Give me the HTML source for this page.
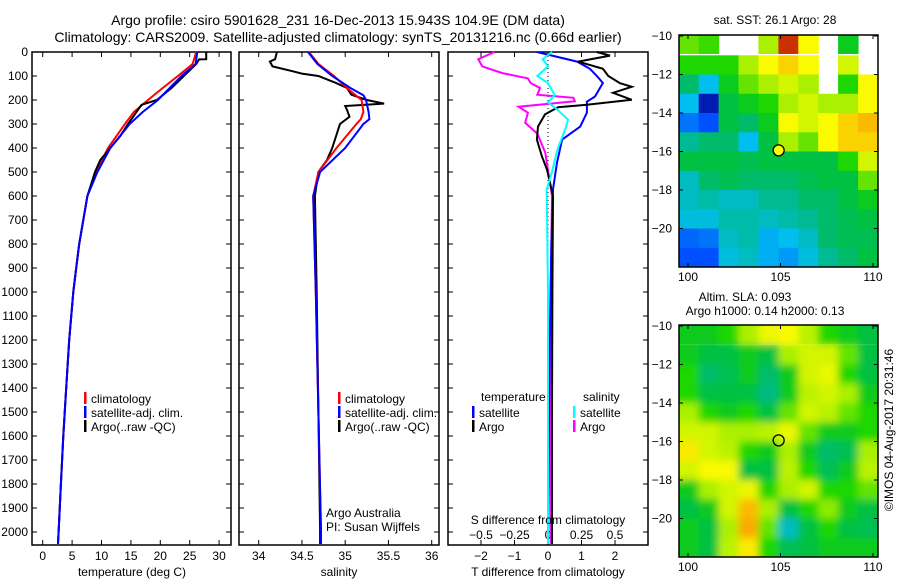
<!DOCTYPE html>
<html><head><meta charset="utf-8"><style>
body{margin:0;background:#fff;}
svg text{font-family:"Liberation Sans",sans-serif;font-size:12px;fill:#000;}
svg text.ttl{font-size:14px;}
</style></head><body>
<svg id="c" width="900" height="580" xmlns="http://www.w3.org/2000/svg">
<defs>
<filter id="blur" x="-10%" y="-10%" width="120%" height="120%"><feGaussianBlur stdDeviation="4"/></filter>
<clipPath id="clip-sst"><rect x="679" y="35" width="199" height="232"/></clipPath>
<clipPath id="clip-sla"><rect x="679" y="325" width="199" height="232"/></clipPath>
</defs>
<text class="ttl" x="338" y="25" text-anchor="middle">Argo profile: csiro 5901628_231 16-Dec-2013 15.943S 104.9E (DM data)</text>
<text class="ttl" x="338" y="42" text-anchor="middle">Climatology: CARS2009. Satellite-adjusted climatology: synTS_20131216.nc (0.66d earlier)</text>
</svg>
<script>
// ---- data ----
const tDepth=[0,30,31,50,100,150,200,220,300,350,400,450,500,600,700,800,900,1000,1200,1400,1600,1800,2000,2050];
const tArgo=[27.8,27.8,26.6,26.1,24.0,21.9,19.4,16.8,14.5,13.2,11.5,9.8,8.9,7.6,6.9,6.2,5.7,5.2,4.5,4.0,3.5,3.1,2.7,2.6];
const cDepth=[0,50,100,150,200,250,300,400,500,600,700,800,900,1000,1200,1400,1600,1800,2000,2050];
const tClim=[26.1,25.5,23.0,20.4,17.9,15.5,14.0,11.1,9.1,7.6,6.9,6.2,5.7,5.2,4.5,4.0,3.5,3.1,2.7,2.6];
const tSat=[26.3,26.0,23.6,21.6,19.6,17.0,14.8,11.5,9.3,7.6,6.9,6.2,5.7,5.2,4.5,4.0,3.5,3.1,2.7,2.6];
const sDepth=[0,30,40,60,80,90,100,130,150,178,200,215,225,240,270,300,400,450,500,600,1000,1500,2000,2050];
const sArgo=[34.21,34.19,34.13,34.16,34.39,34.50,34.69,34.90,35.02,35.07,35.25,35.45,35.00,35.02,35.05,34.94,34.85,34.79,34.69,34.65,34.67,34.69,34.71,34.71];
const scDepth=[0,50,100,150,180,200,250,280,300,400,500,600,1000,2000,2050];
const sClim=[34.58,34.69,34.87,35.02,35.12,35.19,35.21,35.18,35.13,34.90,34.69,34.63,34.66,34.72,34.72];
const sSat=[34.57,34.68,34.85,35.06,35.21,35.24,35.27,35.28,35.21,35.00,34.71,34.63,34.66,34.72,34.72];
const dDepth=[0,15,40,70,100,130,145,170,199,220,230,260,311,365,436,490,600,800,1000,1500,2050];
const dTArgo=[1.46,1.85,0.9,1.64,1.8,2.15,2.5,1.94,2.5,1.16,0.3,-0.09,-0.3,-0.33,-0.18,-0.03,0.15,0.14,0.13,0.12,0.12];
const dsDepth=[0,40,70,100,129,186,207,253,311,365,461,572,800,1200,2050];
const dTSat=[-0.33,0.87,1.25,1.46,1.64,1.4,1.16,1.16,0.96,0.42,0.27,0.15,0.1,0.05,0.0];
const mDepth=[0,30,60,88,110,129,150,178,191,205,228,253,295,340,420,600,1000,2050];
const dSArgo=[-0.4,-0.52,-0.49,-0.34,-0.15,-0.13,-0.06,-0.08,0.19,0.2,-0.22,-0.15,-0.17,-0.08,-0.02,0.03,0.02,0.02];
const cyDepth=[0,30,60,100,129,180,210,240,282,320,407,500,572,1000,2050];
const dSSat=[0.03,-0.04,0.0,-0.08,0.0,0.05,0.0,0.07,0.15,0.13,0.07,0.03,-0.01,0.0,0.0];
const depthTicks=[0,100,200,300,400,500,600,700,800,900,1000,1100,1200,1300,1400,1500,1600,1700,1800,1900,2000];
const tTicks=[0,5,10,15,20,25,30];
const sTicks=[34,34.5,35,35.5,36];
const dTTicks=[-2,-1,0,1,2];
const dSTicks=[-0.5,-0.25,0,0.25,0.5];
const lonTicks=[100,105,110];
const latTicks=[-10,-12,-14,-16,-18,-20];
// SST map (rows lat -10..-22 by 1deg, cols lon 99.5..110.3), null = no data
const sstGrid=[
[0.65,0.62,null,null,0.7,0.97,0.8,null,0.55,null],
[0.6,0.6,0.6,0.7,0.8,0.85,0.8,null,0.75,null],
[0.45,0.3,0.55,0.65,0.7,0.75,0.7,null,0.6,0.8],
[0.3,0.05,0.5,0.55,0.6,0.7,0.75,0.7,0.7,0.8],
[0.2,0.15,0.5,0.45,0.55,0.8,0.75,0.8,0.85,0.88],
[0.4,0.45,0.45,0.3,0.5,0.7,0.65,0.8,0.85,0.85],
[0.5,0.5,0.5,0.48,0.5,0.5,0.5,0.5,0.6,0.75],
[0.35,0.45,0.48,0.45,0.45,0.45,0.48,0.5,0.5,0.65],
[0.35,0.38,0.35,0.35,0.4,0.4,0.45,0.45,0.5,0.55],
[0.32,0.32,0.38,0.38,0.35,0.38,0.4,0.45,0.48,0.5],
[0.18,0.2,0.35,0.38,0.28,0.3,0.35,0.45,0.48,0.48],
[0.15,0.15,0.32,0.35,0.28,0.25,0.32,0.4,0.45,0.5]];
const slaGrid=[
[0.55,0.55,0.6,0.7,0.78,0.8,0.72,0.6,0.55,0.5],
[0.55,0.5,0.5,0.55,0.5,0.7,0.75,0.75,0.65,0.5],
[0.6,0.45,0.48,0.55,0.45,0.55,0.75,0.78,0.6,0.5],
[0.6,0.5,0.5,0.5,0.42,0.55,0.72,0.75,0.7,0.55],
[0.7,0.6,0.55,0.6,0.5,0.65,0.75,0.72,0.65,0.6],
[0.75,0.75,0.7,0.7,0.72,0.78,0.65,0.55,0.55,0.6],
[0.82,0.75,0.72,0.6,0.55,0.7,0.55,0.45,0.48,0.7],
[0.75,0.8,0.8,0.5,0.5,0.72,0.6,0.48,0.55,0.72],
[0.55,0.7,0.75,0.78,0.6,0.7,0.75,0.6,0.6,0.65],
[0.5,0.55,0.75,0.88,0.7,0.5,0.6,0.68,0.55,0.5],
[0.55,0.5,0.7,0.9,0.65,0.35,0.5,0.6,0.5,0.48],
[0.55,0.5,0.72,0.82,0.6,0.48,0.5,0.55,0.55,0.55]];
const argoLon=104.9, argoLat=-15.94;

// ---- drawing ----
const svg=document.getElementById('c');
const NS='http://www.w3.org/2000/svg';
function mk(tag,attrs,parent){const e=document.createElementNS(NS,tag);for(const k in attrs)e.setAttribute(k,attrs[k]);(parent||svg).appendChild(e);return e;}
function txt(x,y,s,anchor,parent){const e=mk('text',{x:x,y:y,'text-anchor':anchor||'start'},parent);e.textContent=s;return e;}
const yD=d=>52+d*0.24;
const yTop=52,yBot=545;

function panel(name,x0,x1){
  const g=mk('g',{});
  
  
  const r=mk('rect',{x:x0,y:yTop,width:x1-x0,height:yBot-yTop,fill:'none',stroke:'#000','stroke-width':1.5},g);
  
  
  depthTicks.forEach(d=>{mk('line',{x1:x0,x2:x0+5,y1:yD(d),y2:yD(d),stroke:'#000'},g);mk('line',{x1:x1,x2:x1-5,y1:yD(d),y2:yD(d),stroke:'#000'},g);});
  return g;
}
function xticks(g,ticks,fx,labelY,top,bottom){
  ticks.forEach(t=>{const x=fx(t);
    if(bottom)mk('line',{x1:x,x2:x,y1:yBot,y2:yBot-5,stroke:'#000'},g);
    if(top)mk('line',{x1:x,x2:x,y1:yTop,y2:yTop+5,stroke:'#000'},g);
    if(labelY){const l=txt(x,labelY,String(t).replace('-','\u2212'),'middle',g);
      
      }
  });
}
function line(g,xs,ds,fx,color,name,w){
  const pts=xs.map((v,i)=>fx(v).toFixed(1)+','+yD(ds[i]).toFixed(1)).join(' ');
  const p=mk('polyline',{points:pts,fill:'none',stroke:color,'stroke-width':w||2,'stroke-linejoin':'miter'},g);
  
  
}
function legend(g,x,y,color,label){
  const r=mk('rect',{x:x,y:y-9,width:2.5,height:12,fill:color},g);
  
  
  const t=txt(x+7,y+2,label,'start',g);
  
  
}
depthTicks.forEach(d=>{const t=txt(28,yD(d)+4,String(d),'end');
  
  });

// Panel 1 temperature
const fT=v=>42.7+v*5.88;
const p1=panel('temperature-panel',32,231);
xticks(p1,tTicks,fT,560,true,true);
line(p1,tClim,cDepth,fT,'#f00','climatology-temp-line');
line(p1,tArgo,tDepth,fT,'#000','argo-temp-line');
line(p1,tSat,cDepth,fT,'#00f','satellite-temp-line');
legend(p1,84,401,'#f00','climatology');legend(p1,84,415,'#00f','satellite-adj. clim.');legend(p1,84,429,'#000','Argo(..raw -QC)');
const t1=txt(132,576,'temperature (deg C)','middle');

// Panel 2 salinity
const fS=v=>258.7+(v-34)*86.5;
const p2=panel('salinity-panel',239,439);
xticks(p2,sTicks,fS,560,true,true);
line(p2,sArgo,sDepth,fS,'#000','argo-salinity-line');
line(p2,sClim,scDepth,fS,'#f00','climatology-salinity-line');
line(p2,sSat,scDepth,fS,'#00f','satellite-salinity-line');
legend(p2,338,401,'#f00','climatology');legend(p2,338,415,'#00f','satellite-adj. clim.');legend(p2,338,429,'#000','Argo(..raw -QC)');
txt(326,517,'Argo Australia','start',p2);txt(326,531,'PI: Susan Wijffels','start',p2);
const t2=txt(339,576,'salinity','middle');

// Panel 3 differences
const fdT=v=>548+v*33.5;
const fdS=v=>548+v*134;
const p3=panel('difference-panel',448,648);
xticks(p3,dTTicks,fdT,560,false,true);
xticks(p3,dSTicks,fdS,null,true,false);
dSTicks.forEach(t=>{const l=txt(fdS(t),539,String(t).replace('-','\u2212'),'middle',p3);});
mk('line',{x1:548,x2:548,y1:yTop,y2:yBot-40,stroke:'#000','stroke-dasharray':'1,3'},p3);
line(p3,dSArgo,mDepth,fdS,'#f0f','argo-salinity-diff-line');
line(p3,dTSat,dsDepth,fdT,'#00f','satellite-temp-diff-line');
line(p3,dTArgo,dDepth,fdT,'#000','argo-temp-diff-line');
line(p3,dSSat,cyDepth,fdS,'#0ff','satellite-salinity-diff-line');
txt(481,401,'temperature','start',p3);txt(583,401,'salinity','start',p3);
legend(p3,472,415,'#00f','satellite');legend(p3,472,429,'#000','Argo');
legend(p3,573,415,'#0ff','satellite');legend(p3,573,429,'#f0f','Argo');
txt(548,524,'S difference from climatology','middle',p3);
const t3=txt(548,576,'T difference from climatology','middle');

// colormap
const cstops=[[0,[0,0,140]],[0.15,[0,80,255]],[0.3,[0,190,240]],[0.42,[0,185,130]],[0.52,[0,195,50]],[0.6,[30,215,0]],[0.7,[170,240,0]],[0.8,[250,250,0]],[0.9,[250,170,0]],[0.95,[230,80,0]],[1,[160,0,0]]];
function cmap(v){for(let i=1;i<cstops.length;i++){if(v<=cstops[i][0]){const a=cstops[i-1],b=cstops[i];const f=(v-a[0])/(b[0]-a[0]);return 'rgb('+a[1].map((c,k)=>Math.round(c+(b[1][k]-c)*f)).join(',')+')';}}return 'rgb(160,0,0)';}

function map(name,grid,top,bottom,circleFill,titleLines,clipId,smooth){
  const g=mk('g',{});
  
  
  const L=679,R=878;
  const fy=lat=>top+1+(-10-lat)*19.25;
  const fx=lon=>688+(lon-100)*18.5;
  const lonMin=99.5,lonStep=(110.27-99.5)/grid[0].length;
  const layers=smooth?[null,'url(#blur)']:[null];
  layers.forEach(f=>{
    const cg=mk('g',{'clip-path':'url(#'+clipId+')'},g);
    const inner=f?mk('g',{filter:f},cg):cg;
    grid.forEach((row,i)=>row.forEach((v,j)=>{
      if(v===null)return;
      const x=fx(lonMin+j*lonStep),y=fy(-10-i);
      const c=mk('rect',{x:x.toFixed(1),y:(i===0?top-12:y).toFixed(1),width:(lonStep*18.5+(j===grid[0].length-1?12:0.6)).toFixed(1),height:(i===0?31:(i===grid.length-1?31:19.9)),fill:cmap(v)},inner);
      if(j===0&&f){c.setAttribute('x',(x-12).toFixed(1));c.setAttribute('width',(lonStep*18.5+12.6).toFixed(1));}
      
      
    }));
  });
  mk('rect',{x:L,y:top,width:R-L,height:bottom-top,fill:'none',stroke:'#000','stroke-width':1.5},g);
  latTicks.forEach(l=>{const y=fy(l);mk('line',{x1:L,x2:L+4,y1:y,y2:y,stroke:'#000'},g);mk('line',{x1:R,x2:R-4,y1:y,y2:y,stroke:'#000'},g);
    const t=txt(672,y+4,String(l).replace('-','\u2212'),'end',g);});
  lonTicks.forEach(l=>{const x=fx(l);mk('line',{x1:x,x2:x,y1:top,y2:top+4,stroke:'#000'},g);mk('line',{x1:x,x2:x,y1:bottom,y2:bottom-4,stroke:'#000'},g);
    const t=txt(x,bottom+14,String(l),'middle',g);});
  const m=mk('circle',{cx:fx(argoLon),cy:fy(argoLat),r:5.5,fill:circleFill,stroke:'#000','stroke-width':1.3},g);
  
  
  titleLines.forEach(tl=>{const t=txt(tl[0],tl[1],tl[2],'middle',g);});
  return g;
}
map('sst-map',sstGrid,35,267,'#ff0',[[775,24,'sat. SST: 26.1 Argo: 28']],'clip-sst',false);
map('sla-map',slaGrid,325,557,'none',[[745,301,'Altim. SLA: 0.093'],[765,315,'Argo h1000: 0.14 h2000: 0.13']],'clip-sla',true);
const cp=txt(0,0,'\u00A9IMOS 04-Aug-2017 20:31:46','middle');
cp.setAttribute('transform','translate(893,430) rotate(-90)');


</script>
</body></html>
